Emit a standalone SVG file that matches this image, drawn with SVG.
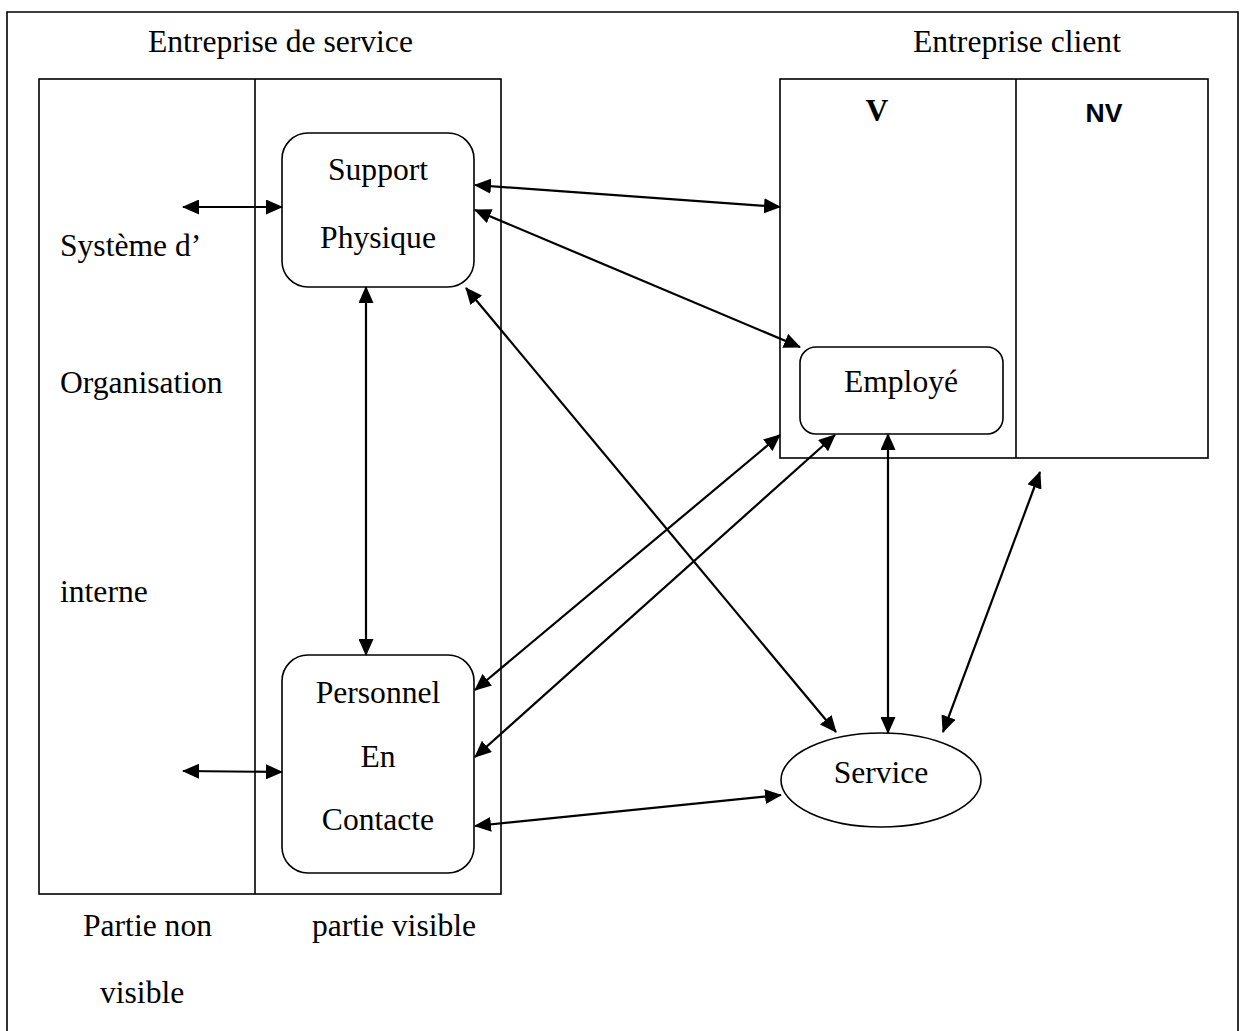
<svg xmlns="http://www.w3.org/2000/svg" width="1243" height="1031" viewBox="0 0 1243 1031">
<style>
.t{font-family:"Liberation Serif","Times New Roman",serif;font-size:31.6px;fill:#000}
.c{text-anchor:middle}
.b{font-weight:bold}
.frame{fill:none;stroke:#000;stroke-width:1.6}
.box{fill:#fff;stroke:#000;stroke-width:1.6}
.con line{stroke:#000;stroke-width:2.2}
</style>
<defs>
<marker id="ah" markerUnits="userSpaceOnUse" markerWidth="17" markerHeight="15" refX="16" refY="7.5" orient="auto-start-reverse">
<path d="M0,0 L17,7.5 L0,15 z" fill="#000"/>
</marker>
</defs>
<rect fill="#fff" width="1243" height="1031"/>
<g id="outer-frame">
<path class="frame" d="M7,1040 V12 H1238 V1040"/>
</g>
<g id="entreprise-service">
<rect class="frame" x="39" y="79" width="462" height="815"/>
<line x1="255" y1="79" x2="255" y2="894" stroke="#000" stroke-width="1.6"/>
<text class="t" x="148" y="52">Entreprise de service</text>
<text class="t" x="60" y="256">Système d’</text>
<text class="t" x="60" y="393">Organisation</text>
<text class="t" x="60" y="602">interne</text>
<text class="t" x="83" y="936">Partie non</text>
<text class="t" x="100" y="1003">visible</text>
<text class="t" x="312" y="936">partie visible</text>
</g>
<g id="entreprise-client">
<rect class="frame" x="780" y="79" width="428" height="379"/>
<line x1="1016" y1="79" x2="1016" y2="458" stroke="#000" stroke-width="1.6"/>
<text class="t" x="913" y="52">Entreprise client</text>
<text class="t c b" x="877" y="121">V</text>
<text class="b" x="1104" y="122" text-anchor="middle" style="font-family:'Liberation Sans',Arial,sans-serif;font-size:26.5px">NV</text>
</g>
<g id="support-physique">
<rect class="box" x="282" y="133" width="192" height="154" rx="26"/>
<text class="t c" x="378" y="180">Support</text>
<text class="t c" x="378" y="248">Physique</text>
</g>
<g id="personnel">
<rect class="box" x="282" y="655" width="192" height="218" rx="26"/>
<text class="t c" x="378" y="703">Personnel</text>
<text class="t c" x="378" y="767">En</text>
<text class="t c" x="378" y="830">Contacte</text>
</g>
<g id="employe">
<rect class="box" x="800" y="347" width="203" height="87" rx="16"/>
<text class="t c" x="901" y="392">Employé</text>
</g>
<g id="service">
<ellipse class="box" cx="881" cy="780" rx="100" ry="47"/>
<text class="t c" x="881" y="783">Service</text>
</g>
<g id="connectors" class="con">
<line x1="183" y1="207" x2="282" y2="207" marker-start="url(#ah)" marker-end="url(#ah)"/>
<line x1="183" y1="771" x2="282" y2="772" marker-start="url(#ah)" marker-end="url(#ah)"/>
<line x1="475" y1="185" x2="780" y2="207" marker-start="url(#ah)" marker-end="url(#ah)"/>
<line x1="475" y1="210" x2="800" y2="347" marker-start="url(#ah)" marker-end="url(#ah)"/>
<line x1="466" y1="288" x2="836" y2="732" marker-start="url(#ah)" marker-end="url(#ah)"/>
<line x1="366" y1="287" x2="366" y2="655" marker-start="url(#ah)" marker-end="url(#ah)"/>
<line x1="475" y1="690" x2="780" y2="435" marker-start="url(#ah)" marker-end="url(#ah)"/>
<line x1="475" y1="757" x2="835" y2="435" marker-start="url(#ah)" marker-end="url(#ah)"/>
<line x1="888" y1="434" x2="888" y2="733" marker-start="url(#ah)" marker-end="url(#ah)"/>
<line x1="1040" y1="472" x2="943" y2="732" marker-start="url(#ah)" marker-end="url(#ah)"/>
<line x1="475" y1="826" x2="781" y2="795" marker-start="url(#ah)" marker-end="url(#ah)"/>
</g>
</svg>
